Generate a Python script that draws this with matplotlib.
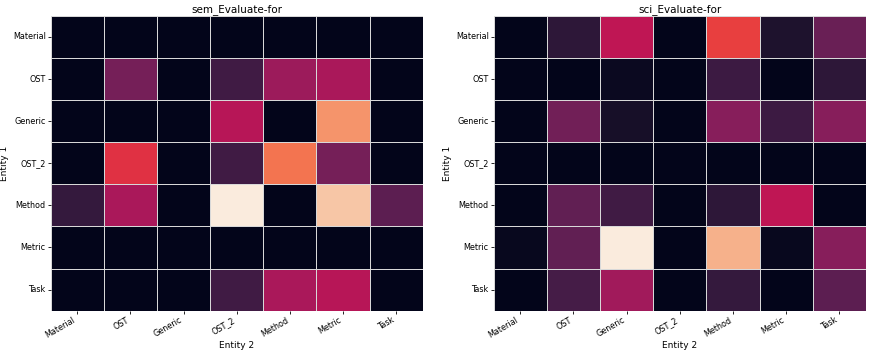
import numpy as np
import pandas as pd
import seaborn as sns
import matplotlib.pyplot as plt

labels = ['Material', 'OST', 'Generic', 'OST_2', 'Method', 'Metric', 'Task']

# normalised values (rows = Entity 1, cols = Entity 2)
sem_values = [
    [0.00, 0.00, 0.00, 0.00, 0.00, 0.00, 0.00],
    [0.00, 0.30, 0.00, 0.17, 0.39, 0.42, 0.00],
    [0.00, 0.00, 0.00, 0.45, 0.00, 0.78, 0.00],
    [0.00, 0.57, 0.00, 0.17, 0.71, 0.30, 0.00],
    [0.14, 0.42, 0.00, 1.00, 0.00, 0.90, 0.24],
    [0.00, 0.00, 0.00, 0.00, 0.00, 0.00, 0.00],
    [0.00, 0.00, 0.00, 0.17, 0.42, 0.45, 0.00],
]
sci_values = [
    [0.00, 0.12, 0.47, 0.00, 0.60, 0.08, 0.27],
    [0.00, 0.00, 0.03, 0.00, 0.16, 0.00, 0.12],
    [0.00, 0.29, 0.06, 0.00, 0.34, 0.16, 0.34],
    [0.00, 0.00, 0.00, 0.00, 0.00, 0.00, 0.00],
    [0.00, 0.25, 0.17, 0.00, 0.12, 0.47, 0.00],
    [0.02, 0.25, 1.00, 0.00, 0.85, 0.02, 0.34],
    [0.00, 0.18, 0.40, 0.00, 0.14, 0.00, 0.24],
]

fig, axes = plt.subplots(1, 2, figsize=(8.72, 3.53), dpi=100)
plt.subplots_adjust(left=0.058, right=0.993, top=0.955, bottom=0.12, wspace=0.19)

for ax, vals, title in zip(axes, [sem_values, sci_values],
                           ['sem_Evaluate-for', 'sci_Evaluate-for']):
    df = pd.DataFrame(vals, index=labels, columns=labels)
    sns.heatmap(df, ax=ax, cmap='rocket', vmin=0, vmax=1, cbar=False,
                linewidths=0.6, linecolor='#d8d8d8')
    ax.set_title(title, fontsize=7.5, pad=3)
    ax.set_xlabel('Entity 2', fontsize=6.5, labelpad=1)
    ax.set_ylabel('Entity 1', fontsize=6.5, labelpad=3)
    ax.tick_params(labelsize=5.8, length=2, width=0.6, pad=1.5)
    plt.setp(ax.get_xticklabels(), rotation=30, ha='right')
    plt.setp(ax.get_yticklabels(), rotation=0)

plt.savefig('out.png')
